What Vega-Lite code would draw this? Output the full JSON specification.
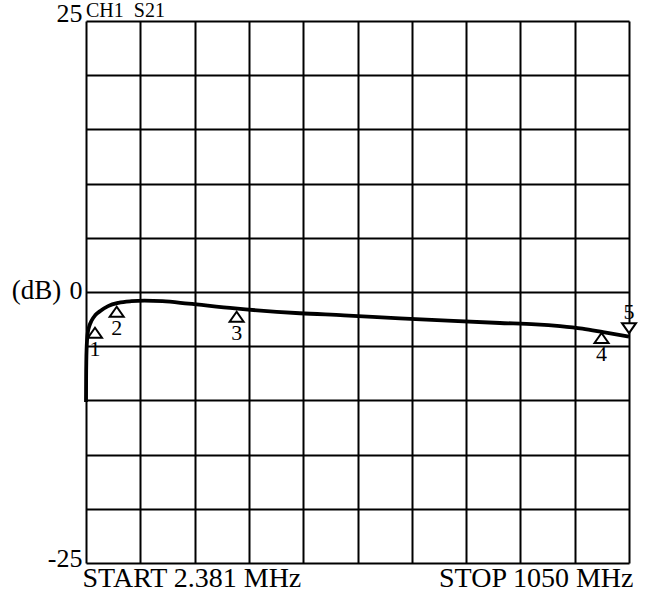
{
  "$schema": "https://vega.github.io/schema/vega-lite/v6.json",
  "width": 543,
  "height": 542,
  "autosize": {"type": "none"},
  "padding": {"left": 86, "top": 21, "right": 22, "bottom": 39},
  "background": "white",
  "config": {
    "view": {"stroke": null},
    "font": "Liberation Serif",
    "axis": {"labelColor": "black", "titleColor": "black", "labelFont": "Liberation Serif", "titleFont": "Liberation Serif"}
  },
  "datasets": {
    "trace": [
      {"f": 2.381, "db": -10.15},
      {"f": 2.6, "db": -8.0},
      {"f": 3.0, "db": -6.3},
      {"f": 3.6, "db": -5.2},
      {"f": 4.5, "db": -4.4},
      {"f": 6, "db": -3.7},
      {"f": 9, "db": -3.1},
      {"f": 13, "db": -2.65},
      {"f": 20, "db": -2.15},
      {"f": 30, "db": -1.75},
      {"f": 45, "db": -1.3},
      {"f": 65, "db": -1.0},
      {"f": 90, "db": -0.85},
      {"f": 115, "db": -0.8},
      {"f": 150, "db": -0.85},
      {"f": 200, "db": -1.08},
      {"f": 290, "db": -1.52},
      {"f": 415, "db": -1.96},
      {"f": 500, "db": -2.15},
      {"f": 608, "db": -2.44},
      {"f": 700, "db": -2.65},
      {"f": 801, "db": -2.86},
      {"f": 870, "db": -2.98},
      {"f": 917, "db": -3.15},
      {"f": 960, "db": -3.38},
      {"f": 1000, "db": -3.7},
      {"f": 1050, "db": -4.12}
    ],
    "markers": [
      {"m": "1", "f": 19.7, "db": -3.3, "dir": "up"},
      {"m": "2", "f": 61.6, "db": -1.36, "dir": "up"},
      {"m": "3", "f": 293, "db": -1.82, "dir": "up"},
      {"m": "4", "f": 997, "db": -3.78, "dir": "up"},
      {"m": "5", "f": 1050, "db": -3.8, "dir": "down"}
    ],
    "header": [
      {"f": 2.381, "db": 25, "label": "CH1\u00a0\u00a0S21"}
    ]
  },
  "encoding": {
    "x": {
      "field": "f",
      "type": "quantitative",
      "scale": {"domain": [2.381, 1050], "nice": false, "zero": false},
      "axis": {
        "title": null,
        "values": [2.381, 107.1429, 211.9048, 316.6667, 421.4286, 526.1905, 630.9524, 735.7143, 840.4762, 945.2381, 1050],
        "labelExpr": "datum.value < 3 ? 'START 2.381 MHz' : (datum.value > 1049 ? 'STOP 1050 MHz' : '')",
        "labelFlush": true,
        "labelFlushOffset": 4,
        "labelOverlap": false,
        "labelLimit": 0,
        "labelBaseline": "alphabetic",
        "labelPadding": 23,
        "labelFontSize": 28,
        "domain": false,
        "ticks": false,
        "grid": true,
        "gridColor": "black",
        "gridWidth": 2,
        "gridOpacity": 1
      }
    },
    "y": {
      "field": "db",
      "type": "quantitative",
      "scale": {"domain": [-25, 25], "nice": false, "zero": false},
      "axis": {
        "title": "(dB)",
        "titleAngle": 0,
        "titleX": -50,
        "titleY": 277,
        "titleAlign": "center",
        "titleBaseline": "alphabetic",
        "titleFontSize": 27,
        "titleFontWeight": "normal",
        "values": [-25, -20, -15, -10, -5, 0, 5, 10, 15, 20, 25],
        "labelExpr": "datum.value == 25 ? '25' : (datum.value == 0 ? '0' : (datum.value == -25 ? '-25' : ''))",
        "labelBaseline": "alphabetic",
        "labelOffset": {"condition": [{"test": "datum.value == 0", "value": 6}, {"test": "datum.value == -25", "value": 3}], "value": 0},
        "labelPadding": 4,
        "labelFontSize": 26,
        "labelOverlap": false,
        "labelLimit": 0,
        "domain": false,
        "ticks": false,
        "grid": true,
        "gridColor": "black",
        "gridWidth": 2,
        "gridOpacity": 1
      }
    }
  },
  "layer": [
    {
      "data": {"name": "trace"},
      "mark": {"type": "line", "color": "black", "strokeWidth": 3.8, "interpolate": "monotone"},
      "encoding": {}
    },
    {
      "data": {"name": "header"},
      "mark": {"type": "text", "fontSize": 20, "baseline": "alphabetic", "align": "left", "dy": -4, "color": "black", "font": "Liberation Serif"},
      "encoding": {"text": {"field": "label"}}
    },
    {
      "data": {"name": "markers"},
      "transform": [{"filter": "datum.dir == 'up'"}],
      "layer": [
        {
          "mark": {"type": "point", "shape": "M0,0L-0.7,1L0.7,1Z", "size": 400, "filled": true, "fill": "white", "stroke": "black", "strokeWidth": 2, "opacity": 1}
        },
        {
          "mark": {"type": "text", "fontSize": 22, "baseline": "alphabetic", "align": "center", "dy": 28, "color": "black", "font": "Liberation Serif"},
          "encoding": {"text": {"field": "m"}}
        }
      ]
    },
    {
      "data": {"name": "markers"},
      "transform": [{"filter": "datum.dir == 'down'"}],
      "layer": [
        {
          "mark": {"type": "point", "shape": "M0,0L-0.7,-1L0.7,-1Z", "size": 400, "filled": true, "fill": "white", "stroke": "black", "strokeWidth": 2, "opacity": 1}
        },
        {
          "mark": {"type": "text", "fontSize": 22, "baseline": "alphabetic", "align": "center", "dy": -14, "color": "black", "font": "Liberation Serif"},
          "encoding": {"text": {"field": "m"}}
        }
      ]
    }
  ]
}
